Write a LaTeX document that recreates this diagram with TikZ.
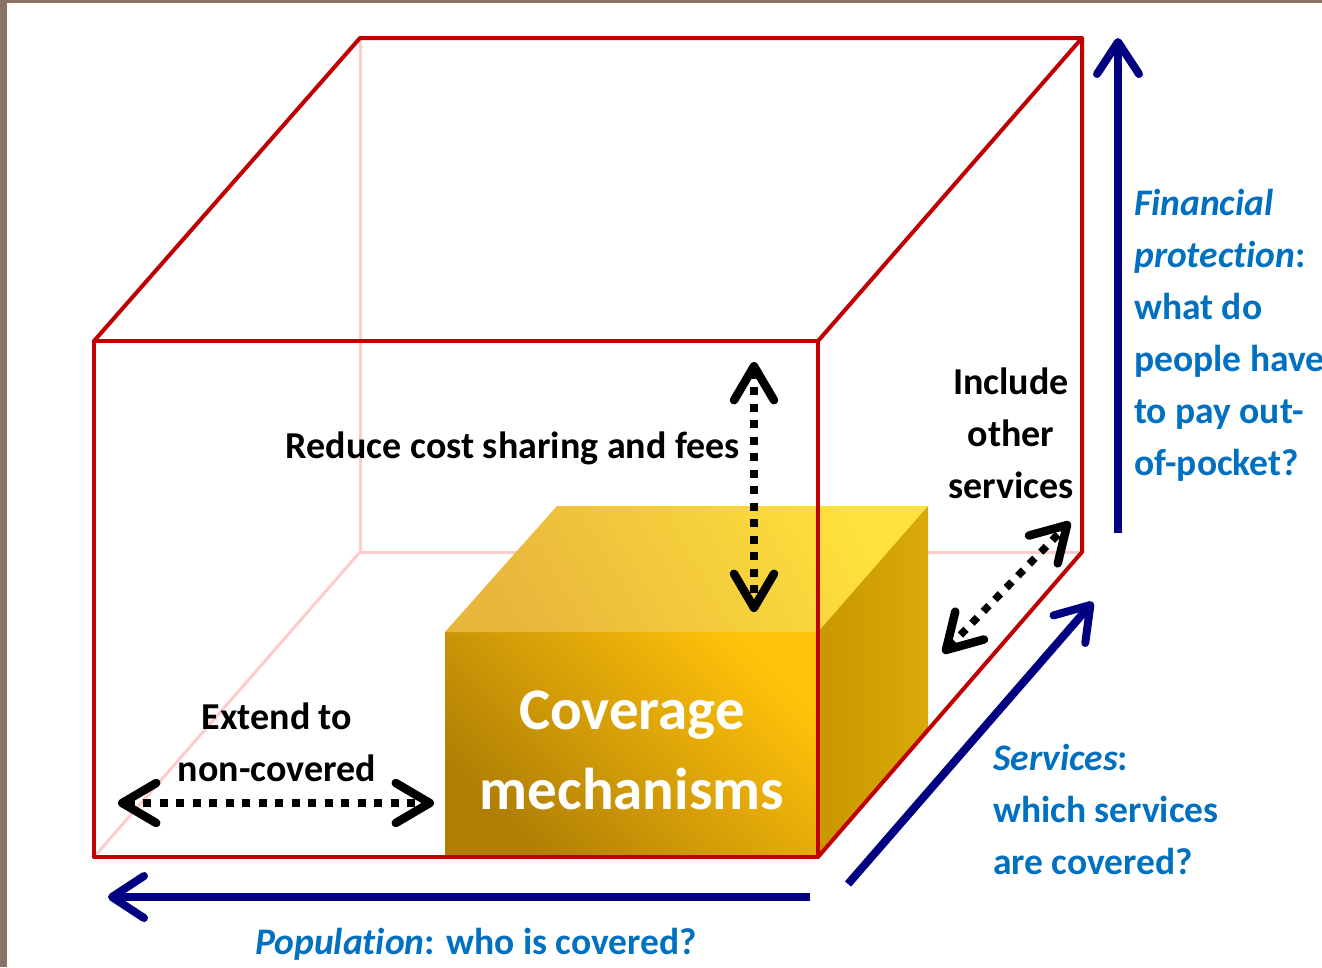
\documentclass[tikz,border=0pt]{standalone}
\usepackage{fontspec}
\setmainfont{Carlito}[Ligatures=NoCommon]
\usetikzlibrary{arrows.meta}

\definecolor{edgered}{HTML}{C00000}
\definecolor{backpink}{HTML}{FFCCCC}
\definecolor{axisnavy}{HTML}{000080}
\definecolor{askblue}{HTML}{0070C0}
\definecolor{framebrown}{HTML}{8C7166}
\definecolor{golddark}{HTML}{AF7E05}
\definecolor{goldlight}{HTML}{FFC20A}
\definecolor{topdark}{HTML}{E8B63C}
\definecolor{toplight}{HTML}{FFE23C}
\definecolor{sidedark}{HTML}{C99700}
\definecolor{sidelight}{HTML}{D9AA08}

\tikzset{
  edge/.style={edgered, line width=4pt, line join=round},
  hidden/.style={backpink, line width=3pt},
  axis/.style={axisnavy, line width=8pt,
    -{Straight Barb[round, length=32pt, width=42pt]}},
  change/.style={line width=7.5pt, dash pattern=on 8pt off 8.5pt,
    {Straight Barb[round, length=34pt, width=40pt, line width=8.5pt]}-{Straight Barb[round, length=34pt, width=40pt, line width=8.5pt]}},
  say/.style={inner sep=0pt, align=center, font=\fontsize{38}{52}\selectfont\bfseries},
  ask/.style={inner sep=0pt, align=left, text=askblue, font=\fontsize{37.5}{52}\selectfont\bfseries},
}

\begin{document}
\begin{tikzpicture}[x=1pt, y=-1pt]
\useasboundingbox (0,0) rectangle (1322,967);
\fill[framebrown] (0,0) rectangle (1322,967);
\fill[white] (7,3) rectangle (1322,967);

% corners of the cube
\coordinate (ftl) at (94,341);
\coordinate (ftr) at (818,341);
\coordinate (fbl) at (94,857);
\coordinate (fbr) at (818,857);
\coordinate (btl) at (360,38);
\coordinate (btr) at (1082,38);
\coordinate (bbl) at (360,552);
\coordinate (bbr) at (1082,552);

% hidden edges
\draw[hidden] (btl) -- (bbl) -- (bbr);
\draw[hidden] (bbl) -- (fbl);

% the coverage block
\shade[bottom color=golddark, top color=goldlight, shading angle=-45]
  (445,632) rectangle (818,857);
\shade[bottom color=topdark, top color=toplight, shading angle=-60]
  (445,632) -- (557,506) -- (928,506) -- (818,632) -- cycle;
\shade[left color=sidedark, right color=sidelight]
  (818,632) -- (928,506) -- (928,731) -- (818,857) -- cycle;

% visible edges
\draw[edge] (ftl) rectangle (fbr);
\draw[edge] (ftl) -- (btl) -- (btr) -- (bbr) -- (fbr);
\draw[edge] (ftr) -- (btr);

% what can be changed
\coordinate (feeup) at (754,362);
\coordinate (feedown) at (754,612);
\coordinate (popleft) at (118,803);
\coordinate (popright) at (434,803);
\coordinate (servin) at (943,653);
\coordinate (servout) at (1070,522);
\draw[change] (feeup) -- (feedown);
\draw[change] (popleft) -- (popright);
\draw[change] (servin) -- (servout);

% the three dimensions
\coordinate (finlow) at (1118,533);
\coordinate (finhigh) at (1118,38);
\coordinate (servlow) at (848,884);
\coordinate (servhigh) at (1093,602);
\coordinate (popstart) at (810,897);
\coordinate (popend) at (108,897);
\draw[axis] (finlow) -- (finhigh);
\draw[axis] (servlow) -- (servhigh);
\draw[axis] (popstart) -- (popend);

\node[say] (reduce) at (513,448) {Reduce cost sharing and fees};
\node[say] (include) at (1011,433) {Include\\other\\services};
\node[say] (extend) at (277,742) {Extend to\\non-covered};
\node[say, text=white, font=\fontsize{59}{80}\selectfont\bfseries] (coverage) at (632,750) {Coverage\\mechanisms};

\node[ask, anchor=west] (finance) at (1134,335)
  {\textit{Financial}\\\textit{protection}:\\what do\\people have\\to pay out-\\of-pocket?};
\node[ask, anchor=west] (services) at (993,809)
  {\textit{Services}:\\which services\\are covered?};
\node[ask] (population) at (476,944) {\textit{Population}: who is covered?};
\end{tikzpicture}
\end{document}
